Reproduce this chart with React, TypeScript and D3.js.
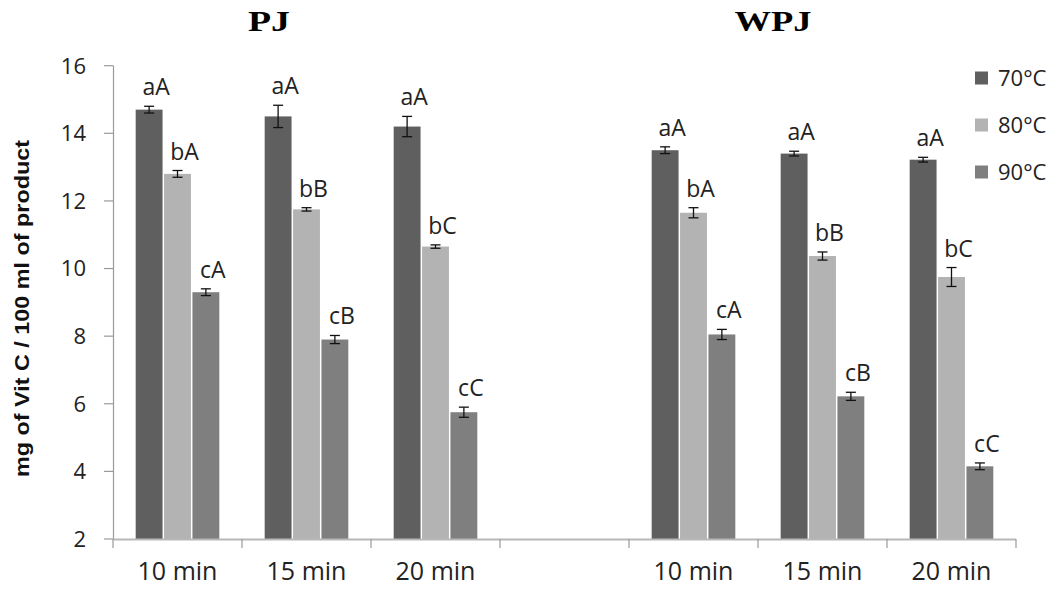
import React from "react";
import * as d3 from "d3";

const slots = ["PJ-10", "PJ-15", "PJ-20", "gap", "WPJ-10", "WPJ-15", "WPJ-20"];
const slotLabels = ["10 min", "15 min", "20 min", "", "10 min", "15 min", "20 min"];
const series = ["70°C", "80°C", "90°C"];
const colors = ["#5f5f5f", "#b3b3b3", "#7f7f7f"];
const v70 = [14.7, 14.5, 14.2, null, 13.5, 13.4, 13.22];
const v80 = [12.8, 11.75, 10.65, null, 11.65, 10.37, 9.75];
const v90 = [9.3, 7.9, 5.75, null, 8.05, 6.22, 4.15];
const e70 = [0.1, 0.33, 0.3, null, 0.1, 0.07, 0.07];
const e80 = [0.1, 0.05, 0.05, null, 0.15, 0.12, 0.28];
const e90 = [0.1, 0.12, 0.15, null, 0.15, 0.12, 0.1];
const l70 = ["aA", "aA", "aA", "", "aA", "aA", "aA"];
const l80 = ["bA", "bB", "bC", "", "bA", "bB", "bC"];
const l90 = ["cA", "cB", "cC", "", "cA", "cB", "cC"];
const yTicks = [2, 4, 6, 8, 10, 12, 14, 16];
const groupTitles = ["PJ", "WPJ"];

export default function App() {
  const W = 1062, H = 590;
  const x = d3.scaleBand<string>().domain(slots).range([113, 1016]).padding(0);
  const y = d3.scaleLinear().domain([2, 16]).range([539, 65.7]);
  const bw = x.bandwidth();
  const inner = d3.scaleBand<string>().domain(series).range([bw * 0.17, bw * 0.83]).padding(0);
  const vals = [v70, v80, v90];
  const errs = [e70, e80, e90];
  const labs = [l70, l80, l90];
  const font = "'Open Sans', 'Liberation Sans', sans-serif";
  const tickXs = d3.range(slots.length + 1).map((i) => 113 + i * bw);
  const titleX = [269, 773];
  const titleLen = [42, 77];
  return (
    <svg width={W} height={H} style={{ position: "absolute", left: 0, top: 0, background: "#fff" }}>
      <rect width={W} height={H} fill="#fff" />
      {groupTitles.map((t, i) => (
        <text key={t} x={titleX[i] - titleLen[i] / 2} y={31} fontFamily="'Liberation Serif', serif" fontWeight="bold" fontSize={29} textLength={titleLen[i]} lengthAdjust="spacingAndGlyphs" fill="#000">{t}</text>
      ))}
      {/* y axis */}
      <line x1={113.5} x2={113.5} y1={y(16)} y2={y(2)} stroke="#9a9a9a" strokeWidth={1.2} />
      {yTicks.map((t) => (
        <g key={t}>
          <line x1={104} x2={113.5} y1={y(t)} y2={y(t)} stroke="#9a9a9a" strokeWidth={1.2} />
          <text x={86} y={y(t)} dy="0.36em" textAnchor="end" fontFamily={font} fontSize={22} fill="#222">{t}</text>
        </g>
      ))}
      <text transform={`translate(29,${(140 + 477) / 2}) rotate(-90)`} textAnchor="middle" fontFamily="'Liberation Sans Narrow', 'Liberation Sans', sans-serif" fontWeight="bold" fontSize={20} textLength={337} lengthAdjust="spacingAndGlyphs" fill="#111">mg of Vit C / 100 ml of  product</text>
      {/* bars */}
      {slots.map((s, i) => (
        <g key={s} transform={`translate(${x(s)},0)`}>
          {series.map((se, k) => {
            const v = vals[k][i];
            if (v == null) return null;
            const e = errs[k][i] as number;
            const bx = inner(se)!;
            const bwi = inner.bandwidth();
            const cx = bx + bwi / 2;
            return (
              <g key={se}>
                <rect x={bx + 0.75} y={y(v)} width={bwi - 1.5} height={y(2) - y(v)} fill={colors[k]} />
                <line x1={cx} x2={cx} y1={y(v + e)} y2={y(v - e)} stroke="#111" strokeWidth={1.3} />
                <line x1={cx - 5} x2={cx + 5} y1={y(v + e)} y2={y(v + e)} stroke="#111" strokeWidth={1.3} />
                <line x1={cx - 5} x2={cx + 5} y1={y(v - e)} y2={y(v - e)} stroke="#111" strokeWidth={1.3} />
                <text x={cx + 7} y={y(v + e) - 11} textAnchor="middle" fontFamily={font} fontSize={23} fill="#222">{labs[k][i]}</text>
              </g>
            );
          })}
        </g>
      ))}
      {/* x axis */}
      <line x1={113} x2={1016} y1={539.5} y2={539.5} stroke="#b8b8b8" strokeWidth={2} />
      {tickXs.map((tx, i) => (
        <line key={i} x1={tx} x2={tx} y1={539} y2={548} stroke="#9a9a9a" strokeWidth={1.2} />
      ))}
      {slots.map((s, i) => (
        <text key={s} x={x(s)! + bw / 2} y={580} textAnchor="middle" fontFamily={font} fontSize={25} fill="#222">{slotLabels[i]}</text>
      ))}
      {/* legend */}
      {series.map((se, k) => (
        <g key={se} transform={`translate(975,${78 + k * 47})`}>
          <rect x={0} y={-6.5} width={13} height={13} fill={colors[k]} />
          <text x={23} y={0} dy="0.36em" fontFamily={font} fontSize={22} fill="#222">{se}</text>
        </g>
      ))}
    </svg>
  );
}
